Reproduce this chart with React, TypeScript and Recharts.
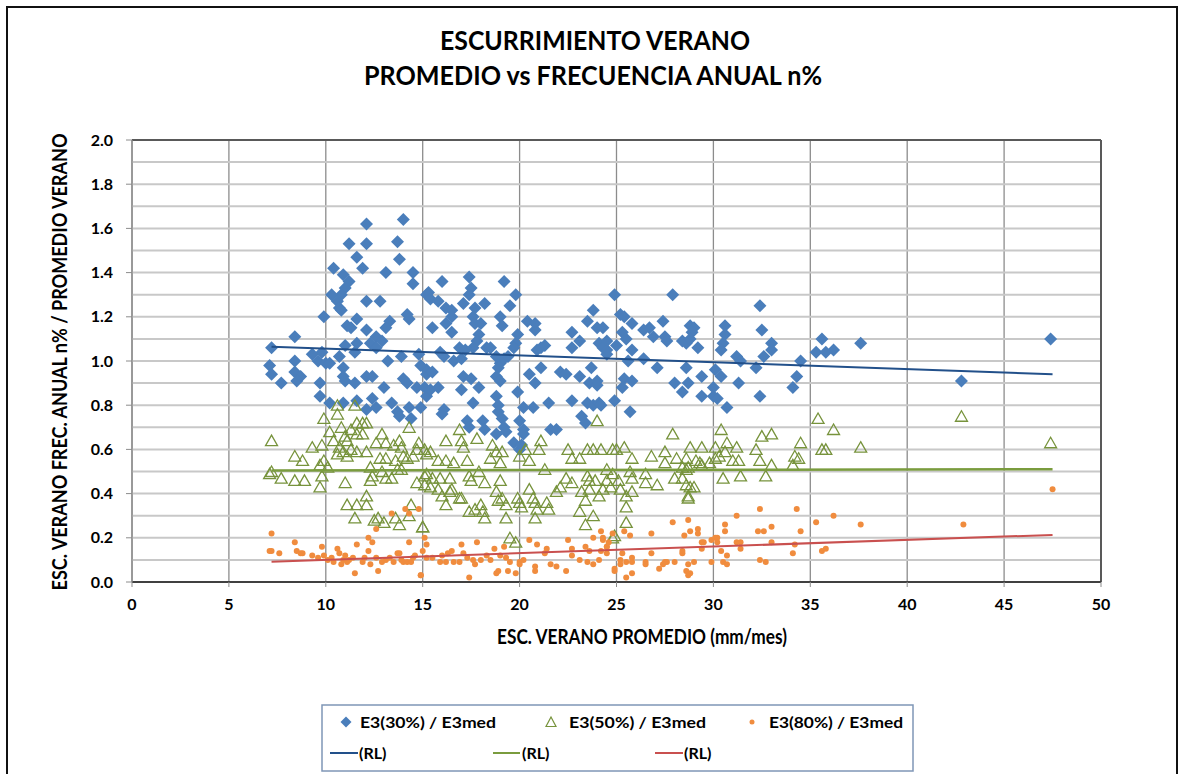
import React from "react";
import { ScatterChart, Scatter, XAxis, YAxis, CartesianGrid, ReferenceLine } from "recharts";

const xTicks = [0, 5, 10, 15, 20, 25, 30, 35, 40, 45, 50];
const yTicks = [0, 0.2, 0.4, 0.6, 0.8, 1.0, 1.2, 1.4, 1.6, 1.8, 2.0];
const yMinorGrid = [0.1, 0.3, 0.5, 0.7, 0.9, 1.1, 1.3, 1.5, 1.7, 1.9];

const e3_30: [number, number][] = [
  [12.1,1.62],[14.0,1.64],[11.2,1.53],[12.1,1.53],[13.7,1.54],[11.6,1.47],[13.8,1.46],[11.9,1.42],[10.4,1.42],[13.1,1.40],
  [14.5,1.40],[14.5,1.35],[10.9,1.39],[11.2,1.36],[11.0,1.33],[10.8,1.30],[10.3,1.30],[10.6,1.27],[10.7,1.24],[10.8,1.23],
  [12.1,1.27],[12.8,1.27],[15.2,1.30],[14.2,1.21],[14.3,1.19],[9.9,1.20],[11.6,1.19],[11.1,1.16],[11.3,1.15],[13.3,1.18],
  [13.1,1.15],[12.1,1.14],[12.6,1.11],[8.4,1.11],[12.9,1.09],[11.0,1.07],[11.6,1.08],[12.3,1.08],[7.2,1.06],[9.3,1.03],
  [9.8,1.04],[10.7,1.02],[11.5,1.04],[12.6,1.06],[13.2,1.00],[13.9,1.02],[14.8,1.03],[8.4,1.00],[9.6,1.00],[10.0,0.99],
  [10.2,0.99],[7.1,0.98],[7.2,0.94],[7.7,0.90],[8.4,0.95],[8.7,0.93],[8.5,0.91],[10.9,0.97],[10.9,0.93],[11.0,0.91],
  [9.7,0.90],[9.7,0.84],[11.5,0.90],[12.1,0.93],[12.4,0.93],[13.0,0.88],[14.0,0.92],[14.2,0.90],[14.7,0.88],[15.2,0.84],
  [15.2,0.94],[10.2,0.81],[10.9,0.81],[11.6,0.82],[12.4,0.83],[12.6,0.79],[12.1,0.78],[13.4,0.81],[13.7,0.77],[13.8,0.75],
  [14.4,0.74],[14.3,0.79],[14.9,0.79],
  [16.0,1.36],[17.4,1.38],[19.2,1.36],[17.5,1.33],[17.4,1.30],[15.3,1.31],[15.4,1.28],[15.8,1.27],[19.8,1.30],[17.1,1.26],
  [18.2,1.26],[16.2,1.24],[16.5,1.23],[17.7,1.24],[19.5,1.25],[16.2,1.17],[16.5,1.20],[17.6,1.20],[17.7,1.17],[18.0,1.17],
  [19.0,1.20],[19.1,1.16],[15.5,1.15],[16.5,1.13],[17.9,1.12],[17.8,1.09],[20.4,1.18],[20.8,1.17],[20.8,1.14],[19.9,1.12],
  [19.8,1.08],[19.7,1.06],[21.3,1.07],[20.9,1.05],[18.3,1.06],[18.5,1.06],[16.9,1.06],[17.2,1.05],[17.6,1.06],[15.9,1.04],
  [16.1,1.02],[16.6,1.00],[17.0,1.01],[18.8,1.02],[19.0,0.99],[19.2,1.01],[19.4,1.02],[15.2,0.96],[15.5,0.95],[14.9,0.98],
  [17.1,0.93],[17.5,0.92],[18.9,0.97],[18.8,0.93],[19.0,0.91],[20.5,0.94],[20.8,0.90],[21.1,0.97],[22.1,0.95],[22.4,0.94],
  [23.1,0.93],[23.7,0.97],[23.6,0.90],[24.0,0.89],[15.1,0.88],[15.4,0.87],[15.8,0.88],[17.0,0.87],[17.9,0.88],[17.6,0.81],
  [18.8,0.84],[18.9,0.80],[19.9,0.86],[21.5,0.81],[22.7,0.82],[20.7,0.79],[23.5,0.81],[23.8,0.80],[24.1,0.81],[16.0,0.76],
  [16.1,0.78],[18.9,0.77],[19.1,0.74],[20.2,0.79],[20.0,0.73],[20.2,0.69],[17.3,0.73],[17.4,0.70],[18.1,0.73],[18.2,0.69],
  [19.2,0.70],[19.3,0.68],[21.6,0.69],[21.9,0.69],[23.2,0.75],[23.4,0.72],[18.8,0.67],[20.2,0.67],[20.0,0.60],[19.7,0.63],
  [20.1,0.62],[23.8,1.23],[23.5,1.18],[24.0,1.15],[24.3,1.15],[22.7,1.13],[23.1,1.09],[22.7,1.06],[24.1,1.08],[24.3,1.06],
  [24.5,1.03],[21.1,1.06],
  [24.9,1.30],[27.9,1.30],[32.4,1.25],[32.5,1.14],[30.6,1.16],[30.6,1.12],[30.5,1.08],[30.4,1.05],[35.6,1.10],[35.3,1.04],
  [35.8,1.04],[36.2,1.05],[37.6,1.08],[34.5,1.00],[34.3,0.93],[34.1,0.88],[32.4,0.84],[30.7,0.79],[31.3,0.90],[29.4,0.84],
  [30.0,0.84],[30.2,0.83],[30.0,0.88],[30.1,0.96],[30.4,0.93],[29.4,0.93],[28.6,0.97],[28.0,0.90],[28.4,0.86],[28.7,0.90],
  [32.2,0.97],[31.2,1.02],[31.4,1.00],[32.6,1.02],[33.0,1.08],[33.0,1.05],[28.8,1.16],[29.0,1.15],[28.9,1.13],[28.4,1.09],
  [28.6,1.08],[28.8,1.10],[29.2,1.06],[27.4,1.18],[27.5,1.11],[27.6,1.09],[26.4,1.14],[26.7,1.15],[26.9,1.11],[25.2,1.21],
  [25.4,1.20],[25.8,1.17],[24.5,1.09],[24.5,1.05],[25.0,1.07],[25.3,1.13],[25.5,1.10],[25.6,1.00],[25.8,1.05],[26.4,1.01],
  [27.1,0.97],[25.4,0.92],[25.8,0.91],[25.3,0.88],[24.9,0.82],[25.7,0.77],[24.2,0.80],[24.0,0.91],[42.8,0.91],[47.4,1.10]
];

const e3_50: [number, number][] = [
  [7.2,0.64],[7.1,0.49],[7.2,0.50],[7.7,0.47],[8.4,0.57],[8.8,0.55],[8.4,0.46],[8.9,0.46],[9.3,0.61],[9.8,0.62],
  [9.9,0.74],[9.7,0.53],[9.8,0.48],[9.7,0.43],[9.9,0.55],[10.1,0.52],[10.6,0.80],[10.6,0.76],[11.5,0.80],[10.2,0.68],
  [10.4,0.64],[10.8,0.70],[11.0,0.66],[11.1,0.64],[11.3,0.69],[10.7,0.61],[10.9,0.59],[11.1,0.57],[10.6,0.58],[11.0,0.45],
  [11.1,0.35],[11.6,0.35],[12.1,0.35],[12.1,0.39],[11.5,0.29],[11.6,0.72],[11.9,0.72],[12.1,0.72],[11.6,0.67],[11.9,0.67],
  [11.3,0.60],[11.6,0.59],[12.1,0.59],[12.3,0.52],[12.4,0.48],[12.3,0.46],[12.6,0.63],[12.9,0.67],[13.1,0.63],[13.5,0.62],
  [13.8,0.64],[13.9,0.61],[14.3,0.70],[12.8,0.56],[13.1,0.56],[13.6,0.55],[14.0,0.57],[14.2,0.56],[14.5,0.57],[12.9,0.50],
  [13.1,0.47],[13.4,0.47],[13.7,0.51],[13.9,0.51],[12.5,0.28],[12.7,0.29],[13.0,0.27],[13.6,0.29],[13.8,0.26],[14.3,0.30],
  [14.4,0.35],[14.7,0.45],[15.0,0.25],[15.1,0.48],[14.8,0.63],[14.7,0.60],
  [16.9,0.69],[17.0,0.64],[17.1,0.61],[17.8,0.65],[16.2,0.64],[15.1,0.60],[15.2,0.58],[15.4,0.59],[15.8,0.55],[16.2,0.55],
  [16.6,0.54],[17.3,0.55],[18.5,0.56],[18.8,0.59],[19.1,0.59],[19.0,0.54],[18.6,0.62],[20.0,0.57],[20.3,0.60],[20.5,0.55],
  [21.1,0.64],[21.0,0.60],[21.3,0.51],[22.5,0.60],[22.7,0.56],[23.1,0.56],[23.5,0.60],[23.8,0.60],[24.2,0.60],[24.8,0.60],
  [24.0,0.73],[22.4,0.47],[22.7,0.45],[23.5,0.48],[23.6,0.46],[23.9,0.46],[24.5,0.51],[24.5,0.46],[24.7,0.43],[21.9,0.41],
  [22.1,0.43],[23.2,0.41],[23.4,0.37],[23.1,0.32],[23.8,0.30],[23.4,0.26],[23.6,0.42],[24.1,0.39],[15.2,0.49],[15.5,0.47],
  [15.9,0.47],[16.4,0.47],[17.4,0.48],[17.5,0.46],[17.9,0.50],[18.2,0.45],[19.0,0.46],[15.1,0.44],[15.4,0.43],[15.8,0.42],
  [16.0,0.39],[16.4,0.41],[16.5,0.42],[16.2,0.35],[16.9,0.38],[17.0,0.38],[17.4,0.32],[17.7,0.33],[18.0,0.35],[18.1,0.32],
  [18.2,0.29],[18.8,0.41],[18.9,0.37],[19.1,0.38],[19.3,0.35],[19.9,0.38],[20.0,0.36],[20.1,0.34],[20.5,0.42],[20.7,0.38],
  [20.8,0.36],[20.8,0.29],[20.9,0.33],[21.4,0.36],[21.5,0.33],[19.3,0.29],[19.5,0.20],[19.8,0.18],[15.0,0.25],
  [35.4,0.74],[36.2,0.69],[30.4,0.69],[27.9,0.67],[32.5,0.66],[33.0,0.67],[34.5,0.63],[34.2,0.57],[34.4,0.56],[35.6,0.60],
  [35.8,0.60],[37.6,0.61],[25.0,0.60],[25.4,0.61],[25.8,0.56],[26.8,0.57],[27.5,0.59],[27.5,0.54],[28.8,0.61],[29.4,0.61],
  [30.1,0.61],[30.7,0.63],[31.2,0.61],[32.2,0.60],[32.4,0.55],[33.0,0.53],[34.1,0.53],[28.1,0.56],[28.6,0.56],[29.1,0.55],
  [29.3,0.54],[29.4,0.53],[30.1,0.56],[30.3,0.57],[30.6,0.59],[31.0,0.55],[31.3,0.55],[28.4,0.52],[28.6,0.51],[28.7,0.52],
  [29.8,0.54],[24.8,0.49],[25.7,0.50],[26.5,0.49],[25.1,0.46],[25.8,0.47],[26.5,0.45],[27.1,0.44],[24.3,0.42],[25.2,0.42],
  [25.8,0.41],[25.5,0.39],[28.0,0.47],[28.4,0.47],[28.6,0.44],[28.8,0.43],[28.7,0.39],[29.0,0.43],[28.7,0.38],[30.5,0.47],
  [31.4,0.48],[32.7,0.48],[25.5,0.34],[25.5,0.27],[24.9,0.21],[24.8,0.20],[42.8,0.75],[47.4,0.63]
];

const e3_80: [number, number][] = [
  [7.2,0.22],[7.2,0.14],[7.1,0.14],[7.6,0.13],[8.4,0.18],[8.5,0.14],[8.7,0.13],[8.8,0.13],[9.3,0.12],[9.8,0.16],
  [9.9,0.12],[10.1,0.10],[10.3,0.11],[10.6,0.15],[10.7,0.13],[10.9,0.10],[11.0,0.12],[11.1,0.09],[11.4,0.11],[11.5,0.04],
  [11.6,0.17],[12.2,0.20],[12.4,0.18],[12.2,0.14],[12.0,0.11],[11.9,0.09],[12.3,0.08],[12.6,0.24],[12.6,0.11],[12.9,0.09],
  [12.7,0.05],[13.1,0.10],[13.3,0.11],[13.5,0.09],[13.7,0.13],[13.8,0.13],[13.9,0.10],[14.0,0.09],[14.2,0.09],[14.4,0.09],
  [14.5,0.11],[14.6,0.12],[13.4,0.31],[14.1,0.33],[14.3,0.31],[14.8,0.33],[14.3,0.18],[14.9,0.03],[10.4,0.09],[10.8,0.08],
  [11.2,0.10],[9.6,0.11],
  [15.1,0.20],[15.2,0.17],[15.0,0.14],[15.2,0.11],[15.5,0.11],[15.9,0.09],[16.0,0.12],[16.3,0.13],[16.5,0.14],[16.2,0.09],
  [16.6,0.09],[16.9,0.09],[17.0,0.17],[17.1,0.13],[17.3,0.11],[17.6,0.10],[17.7,0.08],[17.8,0.18],[18.0,0.10],[18.3,0.12],
  [18.5,0.10],[18.7,0.15],[19.0,0.12],[19.2,0.16],[19.3,0.11],[19.5,0.09],[18.9,0.05],[18.8,0.04],[19.4,0.05],[19.8,0.04],
  [20.0,0.09],[20.2,0.10],[20.0,0.08],[20.5,0.19],[20.8,0.07],[20.8,0.05],[20.9,0.17],[21.3,0.13],[21.4,0.15],[21.6,0.08],
  [21.9,0.07],[22.4,0.05],[22.5,0.19],[22.7,0.15],[22.7,0.12],[23.1,0.10],[23.4,0.16],[23.5,0.09],[23.6,0.14],[23.8,0.08],
  [23.8,0.20],[24.2,0.23],[24.3,0.19],[24.2,0.14],[24.5,0.16],[24.8,0.22],[24.9,0.05],[17.4,0.02],[14.9,0.03],
  [32.4,0.33],[34.3,0.33],[31.2,0.30],[36.2,0.30],[35.3,0.27],[28.7,0.28],[27.9,0.27],[30.6,0.26],[30.6,0.23],[33.0,0.25],
  [32.6,0.23],[32.3,0.23],[34.5,0.23],[28.8,0.23],[29.2,0.24],[29.2,0.22],[28.5,0.21],[26.8,0.22],[25.7,0.21],[25.4,0.23],
  [30.1,0.20],[30.2,0.20],[29.9,0.19],[29.4,0.18],[29.5,0.18],[30.2,0.18],[31.2,0.18],[31.4,0.18],[31.4,0.15],[33.0,0.18],
  [34.2,0.17],[34.1,0.13],[35.6,0.14],[35.8,0.15],[37.6,0.26],[29.4,0.15],[30.4,0.14],[30.7,0.12],[29.9,0.09],[30.5,0.09],
  [30.7,0.08],[32.4,0.10],[32.7,0.09],[28.4,0.13],[28.4,0.14],[27.6,0.09],[28.0,0.09],[27.4,0.08],[28.7,0.08],[28.6,0.05],
  [29.0,0.09],[28.7,0.03],[28.8,0.04],[26.8,0.13],[26.5,0.09],[26.5,0.08],[27.2,0.06],[27.5,0.09],[24.9,0.06],[25.2,0.08],
  [25.5,0.09],[25.8,0.11],[25.8,0.09],[25.5,0.02],[25.8,0.04],[25.2,0.10],[25.3,0.13],[24.3,0.20],[24.5,0.16],[24.1,0.10],
  [24.5,0.13],[24.6,0.18],[42.9,0.26],[47.5,0.42]
];

const rl30: [number, number][] = [[7.2, 1.065], [47.5, 0.94]];
const rl50: [number, number][] = [[7.2, 0.505], [47.5, 0.51]];
const rl80: [number, number][] = [[7.2, 0.092], [47.5, 0.213]];

const toPts = (arr: [number, number][]) => arr.map(([x, y]) => ({ x, y }));

const BLUE = "#4a7ebb";
const BLUE_LINE = "#22508a";
const GREEN = "#77933c";
const GREEN_LINE = "#7a9c3e";
const ORANGE = "#f08c3e";
const RED_LINE = "#c9504f";
const FONT = "Lato, 'Liberation Sans', sans-serif";

const Diamond = (p: any) => (
  <path d={`M${p.cx},${p.cy - 6.5}L${p.cx + 6.5},${p.cy}L${p.cx},${p.cy + 6.5}L${p.cx - 6.5},${p.cy}Z`} fill={BLUE} />
);
const Triangle = (p: any) => (
  <path d={`M${p.cx},${p.cy - 5.5}L${p.cx + 6},${p.cy + 5}L${p.cx - 6},${p.cy + 5}Z`} fill="none" stroke={GREEN} strokeWidth={1.3} />
);
const Dot = (p: any) => <circle cx={p.cx} cy={p.cy} r={3} fill={ORANGE} />;
const NoShape = () => <g />;

export default function App() {
  const tickStyle = { fontSize: 16, fontWeight: 700, fill: "#000", fontFamily: FONT };
  return (
    <div style={{ position: "absolute", left: 0, top: 0, width: 1180, height: 774, overflow: "hidden", background: "#fff" }}>
      <div style={{ position: "absolute", left: 6, top: 6, width: 1172, height: 820, border: "2px solid #111", boxSizing: "border-box" }} />
      <div style={{ position: "absolute", left: 0, top: 0 }}>
        <ScatterChart width={1180} height={774} margin={{ top: 140, right: 79, bottom: 152, left: 72 }}>
          <CartesianGrid horizontal={false} stroke="#8c8c8c" strokeWidth={1.3} verticalValues={xTicks} />
          {yTicks.concat(yMinorGrid).map((v) => (
            <ReferenceLine key={"g" + v} y={v} stroke="#c8c8c8" strokeWidth={2} />
          ))}
          <XAxis
            type="number"
            dataKey="x"
            domain={[0, 50]}
            ticks={xTicks}
            allowDataOverflow
            height={40}
            tick={tickStyle}
            tickSize={5}
            tickMargin={12}
            tickLine={{ stroke: "#8c8c8c" }}
            axisLine={{ stroke: "#404040", strokeWidth: 2 }}
          />
          <YAxis
            type="number"
            dataKey="y"
            domain={[0, 2]}
            ticks={yTicks}
            allowDataOverflow
            width={60}
            tick={tickStyle}
            tickSize={6}
            tickMargin={13}
            tickFormatter={(v: number) => v.toFixed(1)}
            tickLine={{ stroke: "#8c8c8c" }}
            axisLine={{ stroke: "#8c8c8c", strokeWidth: 1.3 }}
          />
          <ReferenceLine y={2} stroke="#595959" strokeWidth={2} />
          <ReferenceLine x={50} stroke="#595959" strokeWidth={2} />
          <Scatter name="E3(30%) / E3med" data={toPts(e3_30)} shape={Diamond} isAnimationActive={false} />
          <Scatter name="E3(50%) / E3med" data={toPts(e3_50)} shape={Triangle} isAnimationActive={false} />
          <Scatter name="E3(80%) / E3med" data={toPts(e3_80)} shape={Dot} isAnimationActive={false} />
          <Scatter name="(RL) 30" data={toPts(rl30)} line={{ stroke: BLUE_LINE, strokeWidth: 2 }} lineType="joint" shape={NoShape} isAnimationActive={false} />
          <Scatter name="(RL) 50" data={toPts(rl50)} line={{ stroke: GREEN_LINE, strokeWidth: 2.5 }} lineType="joint" shape={NoShape} isAnimationActive={false} />
          <Scatter name="(RL) 80" data={toPts(rl80)} line={{ stroke: RED_LINE, strokeWidth: 2 }} lineType="joint" shape={NoShape} isAnimationActive={false} />
        </ScatterChart>
      </div>
      <svg width={1180} height={774} style={{ position: "absolute", left: 0, top: 0, pointerEvents: "none" }}>
        <g fontFamily={FONT} fontWeight={700} fill="#000">
          <text x={595} y={50} fontSize={27} textAnchor="middle" textLength={310} lengthAdjust="spacingAndGlyphs">ESCURRIMIENTO VERANO</text>
          <text x={593} y={85} fontSize={27} textAnchor="middle" textLength={458} lengthAdjust="spacingAndGlyphs">PROMEDIO vs FRECUENCIA ANUAL n%</text>
          <text x={642} y={644} fontSize={20} textAnchor="middle" textLength={290} lengthAdjust="spacingAndGlyphs">ESC. VERANO PROMEDIO (mm/mes)</text>
          <text x={67} y={362} fontSize={20} textAnchor="middle" textLength={457} lengthAdjust="spacingAndGlyphs" transform="rotate(-90, 67, 362)">ESC. VERANO FREC. ANUAL n%  / PROMEDIO VERANO</text>
        </g>
        <g>
          <rect x={322} y={705} width={591} height={66} fill="#fff" stroke="#7f96b6" strokeWidth={1.5} />
          <path d="M346,716.5L351.5,722L346,727.5L340.5,722Z" fill={BLUE} />
          <path d="M551,717L556,726.5L546,726.5Z" fill="none" stroke={GREEN} strokeWidth={1.2} />
          <circle cx={752} cy={722} r={2.5} fill={ORANGE} />
          <line x1={330} y1={753} x2={358} y2={753} stroke={BLUE_LINE} strokeWidth={2} />
          <line x1={493} y1={753} x2={520} y2={753} stroke={GREEN_LINE} strokeWidth={2} />
          <line x1={655} y1={753} x2={683} y2={753} stroke={RED_LINE} strokeWidth={2} />
          <g fontFamily={FONT} fontWeight={700} fontSize={16} fill="#000">
            <text x={360} y={728} textLength={136} lengthAdjust="spacingAndGlyphs">E3(30%) / E3med</text>
            <text x={569} y={728} textLength={137} lengthAdjust="spacingAndGlyphs">E3(50%) / E3med</text>
            <text x={769} y={728} textLength={134} lengthAdjust="spacingAndGlyphs">E3(80%) / E3med</text>
            <text x={359} y={759}>(RL)</text>
            <text x={522} y={759}>(RL)</text>
            <text x={684} y={759}>(RL)</text>
          </g>
        </g>
      </svg>
    </div>
  );
}
